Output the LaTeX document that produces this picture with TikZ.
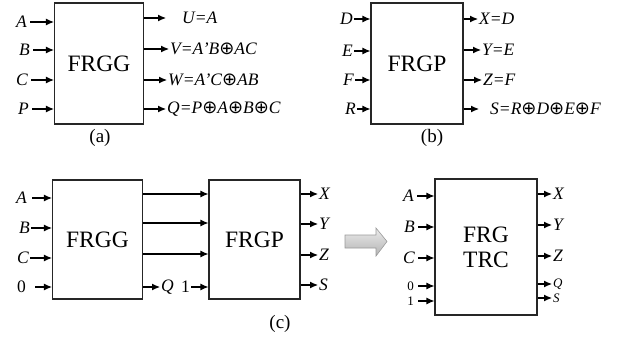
\documentclass[tikz,border=0pt]{standalone}
\usepackage{fontspec}
\setmainfont{Liberation Serif}
\newfontfamily\symfont{DejaVu Sans}
\newcommand{\xo}{{\upshape\symfont\fontsize{18}{18}\selectfont ⊕}}
\usetikzlibrary{arrows.meta,calc}
\begin{document}
\begin{tikzpicture}[x=1pt,y=-1pt,
  blk/.style={draw=black!85,line width=1.1pt,font=\fontsize{23.5}{24}\selectfont,align=center},
  arr/.style={line width=1.1pt,-{Latex[length=8pt,width=7pt]}},
  lbl/.style={font=\fontsize{17.5}{18}\selectfont\itshape,inner sep=1pt},
  nlbl/.style={font=\fontsize{17.5}{18}\selectfont,inner sep=1pt},
  captext/.style={font=\fontsize{19}{19}\selectfont,inner sep=1pt},
  slbl/.style={font=\fontsize{13}{13}\selectfont\itshape,inner sep=1pt},
  snlbl/.style={font=\fontsize{13}{13}\selectfont,inner sep=1pt}]
\useasboundingbox (0,0) rectangle (618,337);
% ---------- (a) ----------
\node[blk,minimum width=89pt,minimum height=121pt,inner sep=0] (ga) at (99,63.5) {FRGG};
\node[lbl,anchor=east] (aA) at (28,22) {A};
\node[lbl,anchor=east] (aB) at (31,50) {B};
\node[lbl,anchor=east] (aC) at (29,80) {C};
\node[lbl,anchor=east] (aP) at (30,109) {P};
\foreach \n in {aA,aB,aC,aP} \draw[arr] ([xshift=2pt]\n.east) -- (\n.east -| ga.west);
\node[lbl,anchor=west] (aU) at (181,18) {U=A};
\node[lbl,anchor=west] (aV) at (169,49) {V=A'B\xo AC};
\node[lbl,anchor=west] (aW) at (167,80) {W=A'C\xo AB};
\node[lbl,anchor=west] (aQ) at (166,109) {Q=P\xo A\xo B\xo C};
\draw[arr] (aU.west -| ga.east) -- ([xshift=-15pt]aU.west);
\foreach \n in {aV,aW,aQ} \draw[arr] (\n.west -| ga.east) -- (\n.west);
\node[captext] (la) at (100,138) {(a)};
% ---------- (b) ----------
\node[blk,minimum width=92pt,minimum height=121pt,inner sep=0] (gp) at (417,63.5) {FRGP};
\node[lbl,anchor=east] (bD) at (354,19) {D};
\node[lbl,anchor=east] (bE) at (354,51) {E};
\node[lbl,anchor=east] (bF) at (355,80) {F};
\node[lbl,anchor=east] (bR) at (357,109) {R};
\foreach \n in {bD,bE,bF,bR} \draw[arr] (\n.east) -- (\n.east -| gp.west);
\node[lbl,anchor=west] (bX) at (478,19) {X=D};
\node[lbl,anchor=west] (bY) at (481,50) {Y=E};
\node[lbl,anchor=west] (bZ) at (482,80) {Z=F};
\node[lbl,anchor=west] (bS) at (489,109) {S=R\xo D\xo E\xo F};
\draw[arr] (bX.west -| gp.east) -- (bX.west);
\draw[arr] (bY.west -| gp.east) -- (bY.west);
\draw[arr] (bZ.west -| gp.east) -- (bZ.west);
\draw[arr] (bS.west -| gp.east) -- ([xshift=-10pt]bS.west);
\node[captext] (lb) at (432,138) {(b)};
% ---------- (c) ----------
\node[blk,minimum width=90pt,minimum height=119pt,inner sep=0] (cg) at (97.5,239.5) {FRGG};
\node[blk,minimum width=91pt,minimum height=119pt,inner sep=0] (cp) at (254.5,239.5) {FRGP};
\node[lbl,anchor=east] (cA) at (28,198) {A};
\node[lbl,anchor=east] (cB) at (31,228) {B};
\node[lbl,anchor=east] (cC) at (30,258) {C};
\node[nlbl,anchor=east] (c0) at (27,287) {0};
\draw[arr] ([xshift=4pt]cA.east) -- (cA.east -| cg.west);
\draw[arr] (cB.east) -- (cB.east -| cg.west);
\draw[arr] (cC.east) -- (cC.east -| cg.west);
\draw[arr] ([xshift=8pt]c0.east) -- (c0.east -| cg.west);
\coordinate (r1) at (142,194);
\coordinate (r2) at (142,223);
\coordinate (r3) at (142,254);
\draw[arr] (r1 -| cg.east) -- (r1 -| cp.west);
\draw[arr] (r2 -| cg.east) -- (r2 -| cp.west);
\draw[arr] (r3 -| cg.east) -- (r3 -| cp.west);
\node[lbl,anchor=west] (cQ) at (160,287) {Q};
\node[nlbl,anchor=west] (c1) at (180,287) {1};
\draw[arr] (cQ.west -| cg.east) -- (cQ.west);
\draw[arr] (c1.east) -- (c1.east -| cp.west);
\node[lbl,anchor=west] (cX) at (318,194) {X};
\node[lbl,anchor=west] (cY) at (318,224) {Y};
\node[lbl,anchor=west] (cZ) at (318,255) {Z};
\node[lbl,anchor=west] (cS) at (318,285) {S};
\foreach \n in {cX,cY,cZ,cS} \draw[arr] (\n.west -| cp.east) -- (\n.west);
\node[captext] (lc) at (280,324) {(c)};
% big arrow
\shade[top color=gray!15,bottom color=gray!60,draw=gray!80,line width=0.6pt]
  (345,235) -- (376,235) -- (376,228) -- (387,241.5) -- (376,256) -- (376,248) -- (345,248) -- cycle;
% ---------- combined ----------
\node[blk,minimum width=102pt,minimum height=136pt,inner sep=0] (ct) at (486,247) {FRG\\[1pt]TRC};
\node[lbl,anchor=east] (tA) at (415,196) {A};
\node[lbl,anchor=east] (tB) at (416,227) {B};
\node[lbl,anchor=east] (tC) at (416,258) {C};
\node[snlbl,anchor=east] (t0) at (415,286) {0};
\node[snlbl,anchor=east] (t1) at (415,301) {1};
\foreach \n in {tA,tB,tC} \draw[arr] ([xshift=2pt]\n.east) -- (\n.east -| ct.west);
\foreach \n in {t0,t1} \draw[arr] ([xshift=3pt]\n.east) -- (\n.east -| ct.west);
\node[lbl,anchor=west] (tX) at (552,194) {X};
\node[lbl,anchor=west] (tY) at (552,225) {Y};
\node[lbl,anchor=west] (tZ) at (552,256) {Z};
\node[slbl,anchor=west] (tQ) at (552,284) {Q};
\node[slbl,anchor=west] (tS) at (552,298) {S};
\foreach \n in {tX,tY,tZ,tQ,tS} \draw[arr] (\n.west -| ct.east) -- (\n.west);
\end{tikzpicture}
\end{document}
